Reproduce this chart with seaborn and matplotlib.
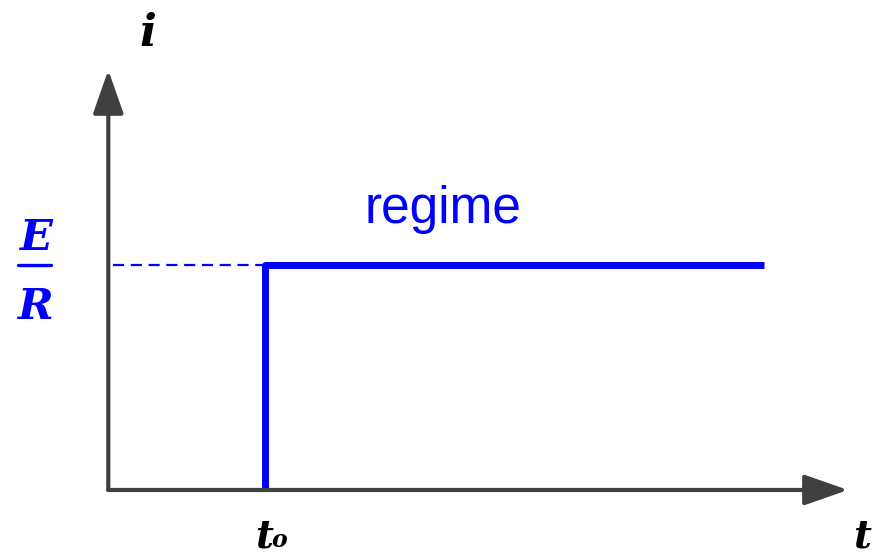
import pandas as pd
import seaborn as sns
import matplotlib.pyplot as plt

# step response: current jumps to E/R at t0 and stays there (regime)
T0 = 1.0
T_END = 4.18
LEVEL = 1.0
step_t = [T0, T0, T_END]
step_i = [0.0, LEVEL, LEVEL]
guide_t = [0.03, T0]
guide_i = [LEVEL, LEVEL]
T_AXIS_END = 4.713
I_AXIS_END = 1.867

BLUE = "#0000FF"
AXIS = "#404040"
SERIF = "DejaVu Serif"

sns.set_theme(style="white")

fig = plt.figure(figsize=(8.75, 5.55), dpi=100)
ax = fig.add_axes([0, 0, 1, 1])
ax.set_xlim(-0.69, 4.885)
ax.set_ylim(-0.289, 2.178)
ax.axis("off")

# axes with arrow heads
arrow = dict(arrowstyle="-|>,head_length=0.6,head_width=0.21", lw=3,
             color=AXIS, mutation_scale=45, shrinkA=0, shrinkB=0)
ax.annotate("", xy=(T_AXIS_END, 0), xytext=(0, 0), arrowprops=arrow)
ax.annotate("", xy=(0, I_AXIS_END), xytext=(0, 0), arrowprops=arrow)

df_step = pd.DataFrame({"t": step_t, "i": step_i})
df_guide = pd.DataFrame({"t": guide_t, "i": guide_i})
sns.lineplot(data=df_guide, x="t", y="i", sort=False, estimator=None, ax=ax,
             color=BLUE, lw=1.6, linestyle=(0, (5, 3)))
sns.lineplot(data=df_step, x="t", y="i", sort=False, estimator=None, ax=ax,
             color=BLUE, lw=5, solid_capstyle="butt")

# labels
bi = dict(family=SERIF, fontweight="bold", fontstyle="italic")
ax.text(0.255, 2.03, "i", ha="center", va="center", fontsize=32, color="black", **bi)
ax.text(4.805, -0.255, "t", ha="center", va="baseline", fontsize=28, color="black", **bi)
ax.text(0.99, -0.255, "t", ha="center", va="baseline", fontsize=28, color="black", **bi)
ax.text(1.09, -0.255, "o", ha="center", va="baseline", fontsize=17, color="black", **bi)

ax.text(-0.465, 1.122, "E", ha="center", va="center", fontsize=31, color=BLUE, **bi)
ax.text(-0.465, 0.815, "R", ha="center", va="center", fontsize=31, color=BLUE, **bi)
ax.plot([-0.573, -0.363], [LEVEL, LEVEL], color=BLUE, lw=2.4)

ax.text(2.134, 1.187, "regime", ha="center", va="baseline", fontsize=37,
        color=BLUE, family="Liberation Sans")

fig.savefig("out.png", dpi=100)
